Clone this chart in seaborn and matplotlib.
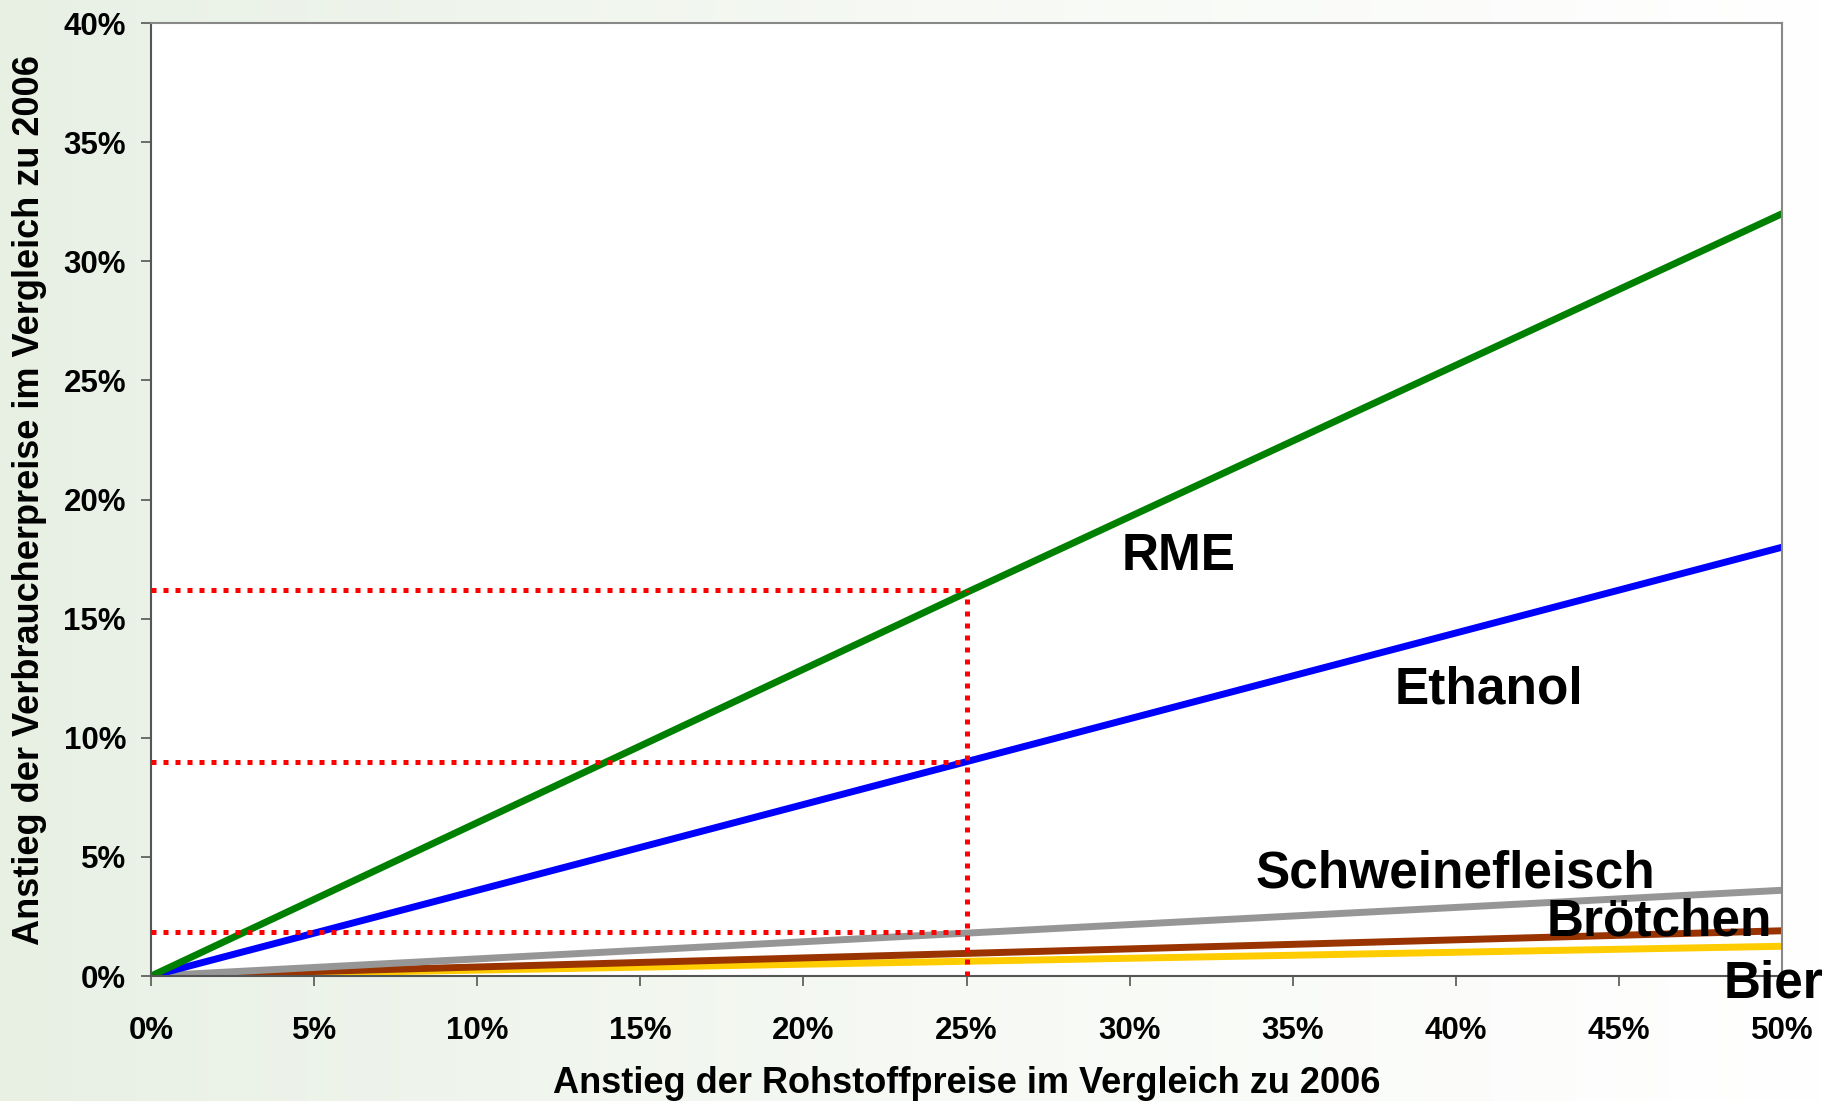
import numpy as np
import pandas as pd
import seaborn as sns
import matplotlib.pyplot as plt
from matplotlib.colors import LinearSegmentedColormap

# Daten (in %)
rohstoff = [0, 25, 50]
rme = [0, 16.1, 32.0]
ethanol = [0, 9.0, 18.0]
schwein = [0, 1.8, 3.6]
broetchen = [0, 0.95, 1.9]
bier = [0, 0.62, 1.25]

serien = ["Bier", "Brötchen", "Schweinefleisch", "Ethanol", "RME"]
farben = {"RME": "#008000", "Ethanol": "#0000ff", "Schweinefleisch": "#969696",
          "Brötchen": "#993300", "Bier": "#ffcc00"}

# Hilfslinien bei 25 %
ref_x = 25
ref_y = [16.2, 9.0, 1.85]

df = pd.DataFrame({
    "x": rohstoff * 5,
    "y": bier + broetchen + schwein + ethanol + rme,
    "serie": [s for s in serien for _ in rohstoff],
})

sns.set_theme(style="white")
plt.rcParams["font.family"] = ["Liberation Sans", "DejaVu Sans"]
plt.rcParams["font.weight"] = "bold"
plt.rcParams["text.color"] = "black"
plt.rcParams["axes.labelcolor"] = "black"
plt.rcParams["xtick.color"] = "black"
plt.rcParams["ytick.color"] = "black"

fig = plt.figure(figsize=(18.27, 11.01), dpi=100)

# Hintergrund: hellgrün links, weiß rechts
bg = fig.add_axes([0, 0, 1, 1], zorder=-10)
grad = np.linspace(0, 1, 256)[None, :]
cmap_bg = LinearSegmentedColormap.from_list("bg", ["#e8f0e4", "#f6f9f4", "#ffffff"])
bg.imshow(grad, aspect="auto", cmap=cmap_bg, extent=[0, 1, 0, 1])
bg.axis("off")

ax = fig.add_axes([0.0827, 0.1135, 0.8927, 0.8655])
ax.set_facecolor("white")

sns.lineplot(data=df, x="x", y="y", hue="serie", hue_order=serien, palette=farben,
             linewidth=5, legend=False, ax=ax, sort=False)

for y in ref_y:
    ax.plot([0, ref_x], [y, y], color="#ff0000", lw=3.6, ls=(0, (1, 1.4)),
            dash_capstyle="butt", zorder=5)
ax.plot([ref_x, ref_x], [0, ref_y[0]], color="#ff0000", lw=3.6, ls=(0, (1, 1.4)),
        dash_capstyle="butt", zorder=5)

ax.set_xlim(0, 50)
ax.set_ylim(0, 40)
ax.set_xticks(range(0, 51, 5))
ax.set_yticks(range(0, 41, 5))
ax.set_xticklabels([f"{v}%" for v in range(0, 51, 5)], fontsize=22.5, fontweight="bold")
ax.set_yticklabels([f"{v}%" for v in range(0, 41, 5)], fontsize=22.5, fontweight="bold")
ax.tick_params(axis="x", direction="out", length=7, width=1.2, color="#555555", pad=22, bottom=True)
ax.tick_params(axis="y", direction="out", length=7, width=1.2, color="#555555", pad=11, left=True)

for s in ["left", "bottom"]:
    ax.spines[s].set_color("#555555")
    ax.spines[s].set_linewidth(1.5)
for s in ["top", "right"]:
    ax.spines[s].set_color("#888888")
    ax.spines[s].set_linewidth(1.5)

ax.set_xlabel("Anstieg der Rohstoffpreise im Vergleich zu 2006", fontsize=26,
              fontweight="bold", labelpad=14)
ax.set_ylabel("Anstieg der Verbraucherpreise im Vergleich zu 2006", fontsize=26,
              fontweight="bold", labelpad=12)

# Beschriftungen der Linien
labels = [("RME", 31.5, 17.6), ("Ethanol", 41.0, 12.0), ("Schweinefleisch", 40.0, 4.3),
          ("Brötchen", 46.25, 2.25), ("Bier", 49.75, -0.35)]
for txt, lx, ly in labels:
    ax.text(lx, ly, txt, fontsize=37, fontweight="bold", ha="center", va="center",
            clip_on=False, zorder=6)

fig.savefig("out.png", dpi=100)
